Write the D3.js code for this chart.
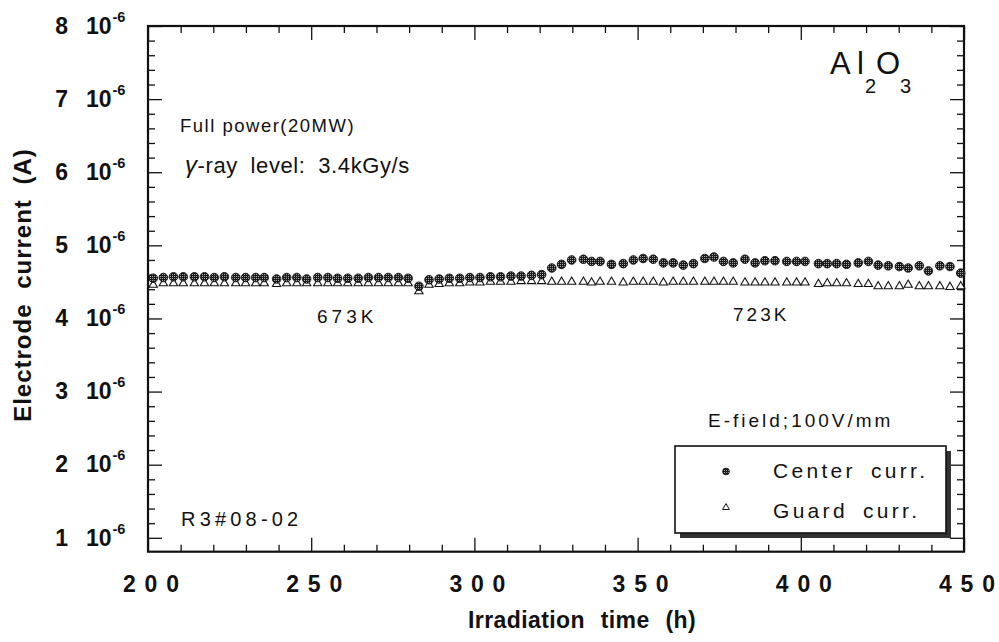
<!DOCTYPE html>
<html>
<head>
<meta charset="utf-8">
<script src="https://cdn.jsdelivr.net/npm/d3@7"></script>
<style>
  html, body { margin: 0; padding: 0; background: #fff; }
  svg { display: block; }
  text { font-family: "Liberation Sans", Arial, Helvetica, sans-serif; fill: #111; }
</style>
</head>
<body>
<script>
// ---------------- data (current values in units of 1e-6 A) ----------------
const times = [201.6,204.7,207.8,210.8,214.2,217.3,220.3,223.4,226.9,229.9,233.0,235.6,239.4,242.5,245.6,248.6,252.0,255.1,258.1,261.2,264.4,267.5,270.6,273.6,276.7,279.7,283.0,
  286.1,289.2,292.3,295.5,298.6,301.7,304.9,308.0,311.2,314.3,317.5,
  320.6,323.7,326.7,329.8,333.4,335.9,338.5,342.0,345.6,348.7,351.7,354.8,357.9,360.9,364.0,
  367.1,370.6,373.4,376.3,379.3,382.9,386.0,389.0,392.1,395.7,398.7,401.3,405.4,408.1,411.0,414.0,417.6,420.7,423.7,426.8,430.2,432.9,436.3,439.1,442.6,445.7,449.0];

const centerCurr = [4.55,4.56,4.57,4.57,4.57,4.57,4.56,4.57,4.56,4.56,4.56,4.56,4.54,4.56,4.56,4.54,4.56,4.56,4.55,4.55,4.55,4.56,4.56,4.56,4.56,4.55,4.44,
  4.53,4.54,4.55,4.55,4.56,4.56,4.57,4.57,4.58,4.58,4.59,
  4.60,4.69,4.74,4.80,4.81,4.78,4.78,4.74,4.75,4.80,4.82,4.81,4.76,4.76,4.73,
  4.75,4.82,4.84,4.78,4.76,4.81,4.76,4.79,4.79,4.78,4.78,4.78,4.75,4.75,4.75,4.74,4.76,4.78,4.73,4.72,4.71,4.69,4.72,4.65,4.72,4.71,4.62];

const guardCurr = [4.46,4.48,4.48,4.48,4.48,4.48,4.48,4.48,4.48,4.48,4.48,4.48,4.47,4.48,4.48,4.48,4.48,4.48,4.48,4.48,4.48,4.48,4.48,4.48,4.48,4.48,4.37,
  4.46,4.47,4.48,4.48,4.49,4.49,4.50,4.50,4.50,4.51,4.51,
  4.51,4.50,4.50,4.50,4.50,4.49,4.50,4.50,4.49,4.50,4.50,4.50,4.49,4.50,4.50,
  4.50,4.50,4.50,4.50,4.50,4.49,4.49,4.49,4.49,4.49,4.49,4.49,4.47,4.48,4.48,4.48,4.47,4.47,4.44,4.44,4.44,4.46,4.44,4.44,4.44,4.43,4.44];

const xTicks = [200, 250, 300, 350, 400, 450];
const xTickLabels = ["200", "250", "300", "350", "400", "450"];
const yTicks = [1, 2, 3, 4, 5, 6, 7, 8];
const yTickLabels = ["1", "2", "3", "4", "5", "6", "7", "8"];
const seriesNames = ["Center curr.", "Guard curr."];

// ---------------- layout ----------------
const W = 999, H = 642;
const L = 148, R = 964, T = 26, B = 551.7;

const svg = d3.select("body").append("svg").attr("width", W).attr("height", H);
svg.append("rect").attr("width", W).attr("height", H).attr("fill", "#fff");

const defs = svg.append("defs");
const pat = defs.append("pattern").attr("id", "dots").attr("width", 2).attr("height", 2)
  .attr("patternUnits", "userSpaceOnUse");
pat.append("rect").attr("width", 2).attr("height", 2).attr("fill", "#1a1a1a");
pat.append("rect").attr("width", 1).attr("height", 1).attr("fill", "#a8a8a8");

const x = d3.scaleLinear().domain([200, 450]).range([L, R]);
const y = d3.scaleLinear().domain([0.81, 8]).range([B, T]);

const xMinor = d3.range(200, 451, 10).filter(v => v % 50 !== 0);
const yMinor = d3.range(10, 81, 2).map(v => v / 10).filter(v => Math.abs(v - Math.round(v)) > 1e-6);

function ticks(axisGen, tr) {
  const g = svg.append("g").attr("transform", tr).call(axisGen);
  g.select(".domain").remove();
  g.selectAll("text").remove();
  g.selectAll("line").attr("stroke", "#111").attr("stroke-width", 1.3);
  return g;
}
ticks(d3.axisBottom(x).tickValues(xTicks).tickSize(-14).tickFormat(""), `translate(0,${B})`);
ticks(d3.axisBottom(x).tickValues(xMinor).tickSize(-7).tickFormat(""), `translate(0,${B})`);
ticks(d3.axisTop(x).tickValues(xTicks).tickSize(-14).tickFormat(""), `translate(0,${T})`);
ticks(d3.axisTop(x).tickValues(xMinor).tickSize(-7).tickFormat(""), `translate(0,${T})`);
ticks(d3.axisLeft(y).tickValues(yTicks).tickSize(-14).tickFormat(""), `translate(${L},0)`);
ticks(d3.axisLeft(y).tickValues(yMinor).tickSize(-7).tickFormat(""), `translate(${L},0)`);
ticks(d3.axisRight(y).tickValues(yTicks).tickSize(-14).tickFormat(""), `translate(${R},0)`);
ticks(d3.axisRight(y).tickValues(yMinor).tickSize(-7).tickFormat(""), `translate(${R},0)`);

svg.append("rect").attr("x", L).attr("y", T).attr("width", R - L).attr("height", B - T)
  .attr("fill", "none").attr("stroke", "#111").attr("stroke-width", 2.2);

// x tick labels: spaced digits
const xl = svg.append("g");
xTicks.forEach((v, i) => {
  const chars = xTickLabels[i].split("");
  const step = 21.6;
  const t = xl.append("text").attr("y", 592).attr("text-anchor", "middle")
    .style("font-size", "23px").style("font-weight", "bold");
  chars.forEach((c, k) => {
    t.append("tspan").attr("x", x(v) + 3 + (k - (chars.length - 1) / 2) * step).text(c);
  });
});

// y tick labels "n 10^-6"
const yl = svg.append("g");
yTicks.forEach((v, i) => {
  const yy = y(v);
  yl.append("text").attr("x", 68).attr("y", yy + 7.8).attr("text-anchor", "end")
    .style("font-size", "23px").style("font-weight", "bold").text(yTickLabels[i]);
  yl.append("text").attr("x", 86).attr("y", yy + 7.8)
    .style("font-size", "23px").style("font-weight", "bold").text("10");
  yl.append("text").attr("x", 112.5).attr("y", yy - 4.3)
    .style("font-size", "14.5px").style("font-weight", "bold").text("-6");
});

// axis titles
svg.append("text").attr("transform", "translate(31,285) rotate(-90)")
  .attr("text-anchor", "middle")
  .style("font-size", "24px").style("font-weight", "bold")
  .style("letter-spacing", "1px").style("word-spacing", "7px")
  .text("Electrode current (A)");
svg.append("text").attr("x", 582).attr("y", 628).attr("text-anchor", "middle")
  .style("font-size", "23px").style("font-weight", "bold")
  .style("letter-spacing", "0.4px").style("word-spacing", "9px")
  .text("Irradiation time (h)");

// ---------------- markers ----------------
const tri = d3.symbol().type(d3.symbolTriangle).size(30);
const guardData = times.map((t, i) => ({t, v: guardCurr[i]}));
const centerData = times.map((t, i) => ({t, v: centerCurr[i]}));

svg.append("g").selectAll("path").data(guardData).join("path")
  .attr("d", tri)
  .attr("transform", d => `translate(${x(d.t)},${y(d.v)})`)
  .attr("fill", "#fff").attr("stroke", "#111").attr("stroke-width", 1.1);

svg.append("g").selectAll("circle").data(centerData).join("circle")
  .attr("cx", d => x(d.t)).attr("cy", d => y(d.v)).attr("r", 4.3)
  .attr("fill", "url(#dots)").attr("stroke", "#111").attr("stroke-width", 0.9);

// ---------------- annotations ----------------
const ann = svg.append("g");
ann.append("text").attr("x", 180).attr("y", 132)
  .style("font-size", "18.5px").style("letter-spacing", "1.5px").text("Full power(20MW)");
const g2 = ann.append("text").attr("x", 185).attr("y", 173)
  .style("font-size", "22px").style("letter-spacing", "0.6px").style("word-spacing", "6px");
g2.append("tspan").style("font-style", "italic").style("font-size", "24px").text("γ");
g2.append("tspan").text("-ray level: 3.4kGy/s");

ann.append("text").attr("x", 317).attr("y", 323)
  .style("font-size", "19px").style("letter-spacing", "4px").text("673K");
ann.append("text").attr("x", 733).attr("y", 321)
  .style("font-size", "19px").style("letter-spacing", "3px").text("723K");
ann.append("text").attr("x", 181).attr("y", 526)
  .style("font-size", "20px").style("letter-spacing", "4.2px").text("R3#08-02");
ann.append("text").attr("x", 708).attr("y", 427)
  .style("font-size", "19px").style("letter-spacing", "3px").text("E-field;100V/mm");

// Al2O3
const f = ann.append("text").style("font-size", "31px");
f.append("tspan").attr("x", 830).attr("y", 74).text("A");
f.append("tspan").attr("x", 857).attr("y", 74).text("l");
f.append("tspan").attr("x", 865).attr("y", 93).style("font-size", "20px").text("2");
f.append("tspan").attr("x", 876).attr("y", 74).text("O");
f.append("tspan").attr("x", 900).attr("y", 93).style("font-size", "20px").text("3");

// ---------------- legend ----------------
const lg = svg.append("g");
lg.append("rect").attr("x", 680).attr("y", 451).attr("width", 271).attr("height", 87).attr("fill", "#333");
lg.append("rect").attr("x", 675).attr("y", 446).attr("width", 271).attr("height", 87)
  .attr("fill", "#fff").attr("stroke", "#111").attr("stroke-width", 1.6);
lg.append("circle").attr("cx", 726).attr("cy", 471.5).attr("r", 3.4)
  .attr("fill", "url(#dots)").attr("stroke", "#111").attr("stroke-width", 0.8);
lg.append("path").attr("d", d3.symbol().type(d3.symbolTriangle).size(20))
  .attr("transform", "translate(726,507.5)")
  .attr("fill", "#fff").attr("stroke", "#111").attr("stroke-width", 1);
lg.append("text").attr("x", 773).attr("y", 478)
  .style("font-size", "21px").style("letter-spacing", "3.3px").style("word-spacing", "6px")
  .text(seriesNames[0]);
lg.append("text").attr("x", 773).attr("y", 518)
  .style("font-size", "21px").style("letter-spacing", "3.3px").style("word-spacing", "6px")
  .text(seriesNames[1]);
</script>
</body>
</html>
